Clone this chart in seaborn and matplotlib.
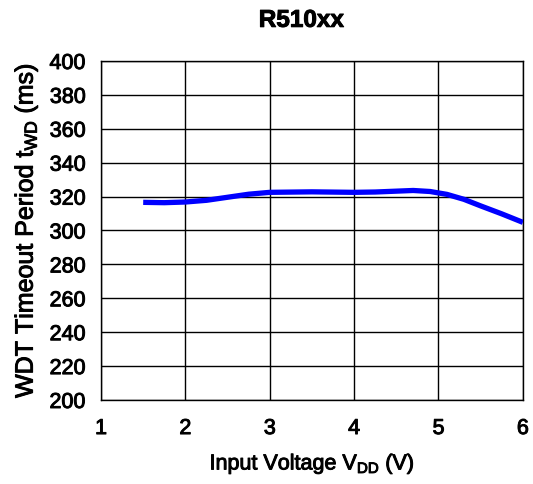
import pandas as pd
import seaborn as sns
from matplotlib import pyplot as plt
from matplotlib import patheffects as pe

# values
vdd = [1.5, 1.75, 2.0, 2.25, 2.5, 2.75, 3.0, 3.5, 4.0, 4.25, 4.5, 4.7, 4.9, 5.1, 5.3, 5.5, 5.75, 6.0]
twd = [316.6, 316.4, 316.8, 317.8, 319.6, 321.4, 322.5, 322.8, 322.5, 322.7, 323.2, 323.6, 323.0, 321.3, 318.4, 314.5, 309.8, 304.8]

xticks = [1, 2, 3, 4, 5, 6]
yticks = list(range(200, 401, 20))

df = pd.DataFrame({'VDD': vdd, 'tWD': twd})

sns.set_theme(style='white')
plt.rcParams['font.family'] = ['Liberation Sans', 'DejaVu Sans']
plt.rcParams['mathtext.fontset'] = 'custom'
plt.rcParams['mathtext.rm'] = 'Liberation Sans'
plt.rcParams['text.color'] = 'black'

# reference text is drawn a bit heavier than plain regular weight
heavy = [pe.withStroke(linewidth=0.7, foreground='black')]

fig = plt.figure(figsize=(5.33, 4.84), dpi=100)
ax = fig.add_axes([0.1895, 0.1736, 0.7915, 0.7004])

sns.lineplot(data=df, x='VDD', y='tWD', ax=ax, color='#0000ff', linewidth=3.8,
             solid_capstyle='butt', zorder=3)

ax.set_xlim(1, 6)
ax.set_ylim(200, 400)
ax.set_xticks(xticks)
ax.set_yticks(yticks)
ax.grid(True, color='black', linewidth=1.0)
for s in ax.spines.values():
    s.set_color('black')
    s.set_linewidth(1.0)
ax.tick_params(axis='both', labelsize=15.5, colors='black', length=0)
ax.tick_params(axis='x', pad=13)
ax.tick_params(axis='y', pad=11)
for t in ax.get_xticklabels() + ax.get_yticklabels():
    t.set_path_effects(heavy)

ax.set_xlabel(r'Input Voltage V$_{\mathregular{DD}}$ (V)', fontsize=15.5, color='black',
              labelpad=9, path_effects=heavy)
ax.set_ylabel(r'WDT Timeout Period t$_{\mathregular{WD}}$ (ms)', fontsize=18, color='black',
              labelpad=7, path_effects=heavy)
fig.text(0.565, 0.958, 'R510xx', fontsize=17.5, fontweight='bold', color='black',
         ha='center', va='center', path_effects=heavy)

plt.savefig('out.png', dpi=100)
